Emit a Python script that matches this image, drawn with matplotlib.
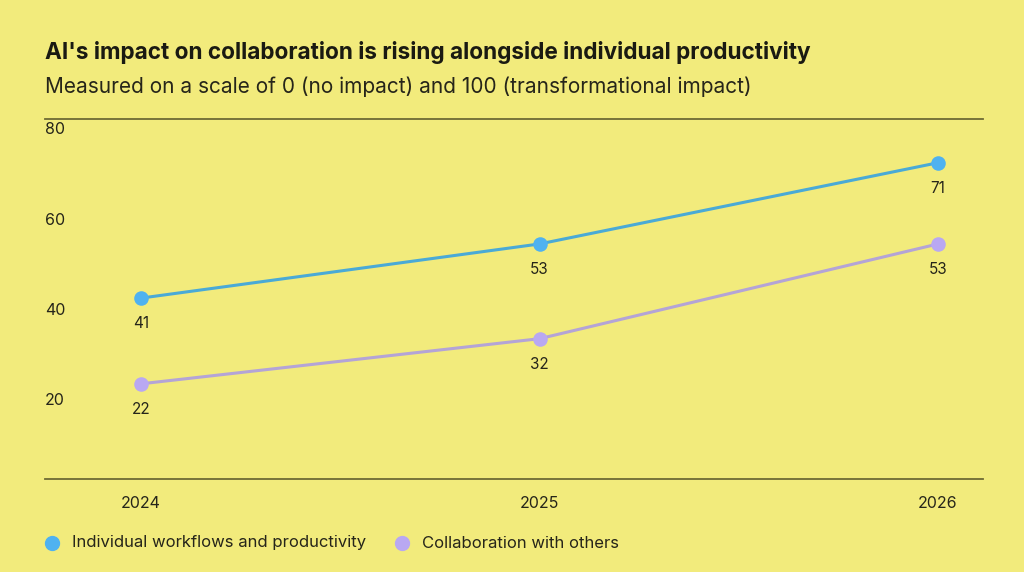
import matplotlib.pyplot as plt

years = ["2024", "2025", "2026"]
individual = [41, 53, 71]
collaboration = [22, 32, 53]
series_names = ["Individual workflows and productivity", "Collaboration with others"]
y_ticks = [20, 40, 60, 80]

BG = "#F2EB7C"
TXT = "#26251a"
LINE = "#6e6a35"
BLUE_M = "#4FB2F0"
BLUE_L = "#4AAAD6"
PURP_M = "#B9A8F2"
PURP_L = "#B4A4D6"

plt.rcParams['font.family'] = ['Inter', 'DejaVu Sans']

fig = plt.figure(figsize=(10.24, 5.72), dpi=100, facecolor=BG)
ax = fig.add_axes([0.044, 0.1626, 0.916, 0.6294], facecolor=BG)

x = list(range(len(years)))
for vals, mc, lc in [(individual, BLUE_M, BLUE_L), (collaboration, PURP_M, PURP_L)]:
    ax.plot(x, vals, color=lc, lw=2.2, zorder=2)
    ax.scatter(x, vals, s=110, color=mc, zorder=3, linewidths=0)
    for xi, v in zip(x, vals):
        ax.annotate(str(v), (xi, v), xytext=(0, -13), textcoords="offset points",
                    ha="center", va="top", fontsize=11, color=TXT)

ax.set_xlim(-0.241, 2.113)
ax.set_ylim(0.9, 80.7)
for s in ["left", "right"]:
    ax.spines[s].set_visible(False)
ax.spines["top"].set_color(LINE)
ax.spines["bottom"].set_color(LINE)
ax.spines["top"].set_linewidth(1.3)
ax.spines["bottom"].set_linewidth(1.3)
ax.set_yticks([])
ax.set_xticks(x)
ax.set_xticklabels(years, fontsize=11.5, color=TXT)
ax.tick_params(axis="x", length=0, pad=12)

for t in y_ticks:
    ax.text(0, t - 1.7, str(t), transform=ax.get_yaxis_transform(), ha="left", va="center",
            fontsize=11.5, color=TXT)

fig.text(0.044, 0.908, "AI's impact on collaboration is rising alongside individual productivity",
         fontsize=16.25, fontweight="bold", color="#1a1a12", va="center", ha="left")
fig.text(0.044, 0.849, "Measured on a scale of 0 (no impact) and 100 (transformational impact)",
         fontsize=15, color=TXT, va="center", ha="left")

# legend
leg_y = 1 - 543 / 572
fig.add_artist(plt.Line2D([52 / 1024], [leg_y], marker="o", markersize=10, color=BLUE_M,
                          transform=fig.transFigure, linestyle=""))
fig.text(72 / 1024, leg_y, series_names[0], fontsize=12, color=TXT, va="center", ha="left")
fig.add_artist(plt.Line2D([402 / 1024], [leg_y], marker="o", markersize=10, color=PURP_M,
                          transform=fig.transFigure, linestyle=""))
fig.text(422 / 1024, leg_y, series_names[1], fontsize=12, color=TXT, va="center", ha="left")

fig.savefig("out.png", dpi=100, facecolor=BG)
